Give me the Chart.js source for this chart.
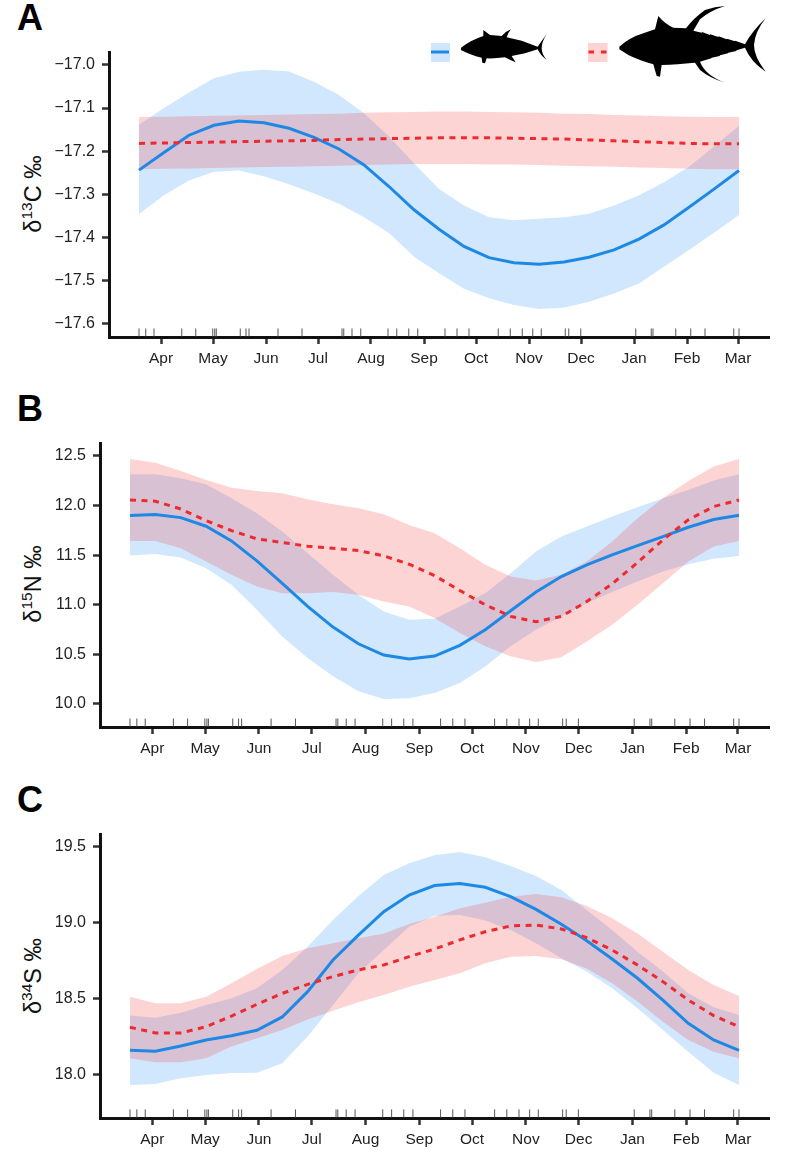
<!DOCTYPE html>
<html lang="en">
<head>
    <meta charset="UTF-8">
    <title>Seasonal isotope values</title>
    <style>
        html, body {
            margin: 0;
            padding: 0;
            background: #fff;
            overflow: hidden;
        }
        body {
            position: relative;
            width: 786px;
            height: 1150px;
            font-family: "Liberation Sans", Arial, sans-serif;
            color: #111;
        }
        canvas {
            position: absolute;
            left: 0;
        }
        .letter {
            position: absolute;
            left: 17px;
            font-size: 36px;
            font-weight: bold;
            line-height: 36px;
            color: #000;
        }
        .ylabel {
            position: absolute;
            left: 33px;
            font-size: 23.5px;
            white-space: nowrap;
            transform: translate(-50%, -50%) rotate(-90deg);
        }
        .ylabel sup {
            font-size: 15.5px;
            line-height: 0;
        }
        #key {
            position: absolute;
            left: 0;
            top: 0;
        }
    </style>
</head>
<body>
    <div class="letter" style="top:0px">A</div>
    <div class="letter" style="top:391px">B</div>
    <div class="letter" style="top:782px">C</div>

    <div class="ylabel" style="top:194px">&delta;<sup>13</sup>C &permil;</div>
    <div class="ylabel" style="top:584px">&delta;<sup>15</sup>N &permil;</div>
    <div class="ylabel" style="top:976px">&delta;<sup>34</sup>S &permil;</div>

    <canvas id="chartA" width="786" height="372" style="top:0"></canvas>
    <canvas id="chartB" width="786" height="372" style="top:385px"></canvas>
    <canvas id="chartC" width="786" height="380" style="top:770px"></canvas>

    <!-- legend swatches and fish silhouettes -->
    <svg id="key" width="786" height="90" viewBox="0 0 786 90">
        <rect x="431" y="43" width="19" height="19" fill="#d0e6fc"/>
        <line x1="431" y1="52" x2="449" y2="52" stroke="#1e88e5" stroke-width="3"/>
        <rect x="588" y="43" width="19.5" height="19" fill="#fdd3d3"/>
        <line x1="588.5" y1="52" x2="607" y2="52" stroke="#ee2a2e" stroke-width="3" stroke-dasharray="5.5 7"/>
        <g transform="translate(455,20) scale(0.3333)" fill="#000">
            <path d="M18 83 Q48 60 85 48 L85 30 L105 45 L140 48 Q152 34 168 28 Q158 40 155 52 L200 62 L248 80 Q258 66 275 42 Q260 66 260 85 Q260 102 275 120 Q256 106 248 88 L210 100 L170 108 L182 127 Q164 120 150 112 Q120 116 95 115 L90 130 L82 128 L80 113 Q45 105 18 90 Z"/>
        </g>
        <g transform="translate(610,0) scale(0.3333)" fill="#000">
            <path d="M28 140 Q60 112 100 100 L135 88 L145 48 Q165 72 190 83 L228 85 Q250 55 285 30 Q315 20 345 18 Q300 32 270 58 L250 92 L275 98 L276 96 L300 105 L301 103 L325 111 L326 109 L350 118 L351 116 L375 124 L376 122 L405 133 Q425 95 467 55 Q435 95 432 135 Q432 170 467 215 Q422 185 405 143 L380 151 L379 153 L355 158 L354 160 L330 166 L329 168 L305 173 L304 175 L270 185 Q285 225 345 248 Q300 235 270 210 L255 188 Q200 193 155 195 L150 230 L140 228 L130 193 Q85 180 55 165 L28 148 Z"/>
        </g>
    </svg>

    <script src="https://cdn.jsdelivr.net/npm/chart.js"></script>
    <script>
        // x runs over the 25 model knots, 0 to 24
        const knots = [0, 1, 2, 3, 4, 5, 6, 7, 8, 9, 10, 11, 12, 13, 14, 15, 16, 17, 18, 19, 20, 21, 22, 23, 24];
        const monthLabels = ['Apr', 'May', 'Jun', 'Jul', 'Aug', 'Sep', 'Oct', 'Nov', 'Dec', 'Jan', 'Feb', 'Mar'];
        const monthPositions = [0.88, 2.96, 5.08, 7.16, 9.28, 11.4, 13.48, 15.6, 17.68, 19.8, 21.92, 23.96];
        const sampleDates = [0, 0.27, 0.6, 1.71, 2.27, 2.95, 3.03, 3.09, 4.05, 4.28, 4.4, 5.56, 6.52, 8.12, 8.19, 8.52, 8.87,
            9.96, 10.31, 10.79, 11.15, 12.24, 12.72, 13.2, 14.37, 14.85, 15.33, 15.75, 16.09, 17.05, 17.19, 17.67,
            19.87, 20.49, 20.56, 21.47, 22.07, 22.64, 23.79, 24];

        // panel A, d13C
        const aTicks = [-17.0, -17.1, -17.2, -17.3, -17.4, -17.5, -17.6];
        const aBlueMean = [-17.244, -17.203, -17.163, -17.14, -17.13, -17.134, -17.147, -17.168, -17.195, -17.232, -17.282, -17.336, -17.381, -17.421, -17.447, -17.459, -17.462, -17.457, -17.446, -17.429, -17.404, -17.371, -17.33, -17.288, -17.245];
        const aBlueUpper = [-17.139, -17.1, -17.064, -17.031, -17.016, -17.011, -17.015, -17.039, -17.07, -17.112, -17.166, -17.228, -17.288, -17.326, -17.353, -17.36, -17.357, -17.353, -17.345, -17.326, -17.302, -17.272, -17.236, -17.189, -17.141];
        const aBlueLower = [-17.346, -17.302, -17.268, -17.248, -17.245, -17.258, -17.277, -17.298, -17.322, -17.353, -17.39, -17.445, -17.483, -17.519, -17.541, -17.557, -17.566, -17.563, -17.549, -17.53, -17.507, -17.468, -17.429, -17.389, -17.348];
        const aRedMean = [-17.182, -17.181, -17.18, -17.179, -17.178, -17.177, -17.176, -17.175, -17.173, -17.172, -17.171, -17.17, -17.169, -17.169, -17.169, -17.17, -17.171, -17.172, -17.174, -17.176, -17.178, -17.18, -17.182, -17.183, -17.183];
        const aRedUpper = [-17.121, -17.12, -17.119, -17.118, -17.117, -17.116, -17.115, -17.114, -17.113, -17.111, -17.11, -17.109, -17.108, -17.108, -17.109, -17.11, -17.111, -17.113, -17.114, -17.116, -17.117, -17.119, -17.12, -17.121, -17.121];
        const aRedLower = [-17.242, -17.241, -17.24, -17.239, -17.238, -17.237, -17.236, -17.235, -17.234, -17.232, -17.231, -17.23, -17.23, -17.23, -17.231, -17.231, -17.232, -17.234, -17.235, -17.236, -17.238, -17.239, -17.241, -17.242, -17.242];

        // panel B, d15N
        const bTicks = [10.0, 10.5, 11.0, 11.5, 12.0, 12.5];
        const bBlueMean = [11.9, 11.91, 11.879, 11.792, 11.644, 11.443, 11.215, 10.983, 10.775, 10.607, 10.493, 10.453, 10.483, 10.591, 10.748, 10.94, 11.128, 11.285, 11.403, 11.503, 11.597, 11.688, 11.782, 11.859, 11.903];
        const bBlueUpper = [12.315, 12.315, 12.275, 12.215, 12.074, 11.923, 11.738, 11.52, 11.302, 11.101, 10.933, 10.849, 10.859, 10.983, 11.117, 11.319, 11.537, 11.688, 11.789, 11.889, 11.983, 12.074, 12.158, 12.252, 12.315];
        const bBlueLower = [11.497, 11.513, 11.477, 11.369, 11.201, 10.95, 10.681, 10.463, 10.279, 10.128, 10.05, 10.057, 10.111, 10.211, 10.379, 10.581, 10.748, 10.883, 11.017, 11.128, 11.235, 11.336, 11.409, 11.463, 11.493];
        const bRedMean = [12.057, 12.044, 11.966, 11.849, 11.748, 11.664, 11.628, 11.591, 11.57, 11.547, 11.493, 11.409, 11.295, 11.144, 11.0, 10.883, 10.829, 10.883, 11.033, 11.211, 11.426, 11.654, 11.856, 11.99, 12.057];
        const bRedUpper = [12.47, 12.433, 12.349, 12.258, 12.181, 12.148, 12.124, 12.064, 12.013, 11.973, 11.913, 11.805, 11.721, 11.57, 11.403, 11.285, 11.245, 11.302, 11.436, 11.638, 11.872, 12.074, 12.248, 12.393, 12.47];
        const bRedLower = [11.644, 11.644, 11.57, 11.436, 11.302, 11.185, 11.117, 11.117, 11.128, 11.101, 11.034, 10.983, 10.866, 10.715, 10.581, 10.48, 10.423, 10.47, 10.631, 10.799, 11.0, 11.218, 11.436, 11.587, 11.644];

        // panel C, d34S
        const cTicks = [18.0, 18.5, 19.0, 19.5];
        const cBlueMean = [18.16, 18.153, 18.188, 18.228, 18.256, 18.291, 18.379, 18.545, 18.753, 18.917, 19.071, 19.18, 19.242, 19.255, 19.231, 19.169, 19.086, 18.988, 18.88, 18.76, 18.633, 18.49, 18.337, 18.228, 18.16];
        const cBlueUpper = [18.388, 18.374, 18.407, 18.458, 18.501, 18.567, 18.688, 18.841, 19.016, 19.174, 19.312, 19.388, 19.441, 19.463, 19.428, 19.371, 19.305, 19.213, 19.082, 18.95, 18.808, 18.677, 18.534, 18.442, 18.392];
        const cBlueLower = [17.932, 17.939, 17.976, 17.998, 18.011, 18.013, 18.074, 18.25, 18.458, 18.666, 18.819, 18.972, 19.044, 19.049, 19.012, 18.95, 18.863, 18.764, 18.677, 18.567, 18.436, 18.293, 18.151, 18.013, 17.932];
        const cRedMean = [18.311, 18.274, 18.274, 18.315, 18.385, 18.462, 18.534, 18.593, 18.644, 18.688, 18.72, 18.775, 18.825, 18.885, 18.939, 18.977, 18.983, 18.957, 18.9, 18.819, 18.72, 18.611, 18.49, 18.388, 18.315];
        const cRedUpper = [18.512, 18.469, 18.469, 18.512, 18.6, 18.694, 18.78, 18.83, 18.863, 18.896, 18.928, 18.99, 19.038, 19.093, 19.13, 19.169, 19.187, 19.165, 19.108, 19.027, 18.928, 18.808, 18.688, 18.589, 18.517];
        const cRedLower = [18.107, 18.081, 18.081, 18.107, 18.184, 18.239, 18.293, 18.363, 18.42, 18.475, 18.523, 18.578, 18.622, 18.666, 18.731, 18.775, 18.78, 18.758, 18.698, 18.6, 18.48, 18.348, 18.228, 18.151, 18.107];

        const BLUE = '#1e88e5';
        const RED = '#ee2a2e';
        const BLUE_FILL = 'rgba(25, 135, 250, 0.2)';
        const RED_FILL = 'rgba(244, 40, 40, 0.2)';
        const AXIS = '#111';

        function xy(values) {
            return values.map((v, i) => ({ x: knots[i], y: v }));
        }

        // band = upper edge filled down to the dataset right after it
        function band(values, color, order) {
            return { data: xy(values), fill: { target: '+1' }, backgroundColor: color, borderWidth: 0, pointRadius: 0, order: order };
        }
        function edge(values, order) {
            return { data: xy(values), fill: false, borderWidth: 0, pointRadius: 0, order: order };
        }

        function drawPanel(id, opts) {
            new Chart(document.getElementById(id), {
                type: 'line',
                data: {
                    datasets: [
                        band(opts.blueUpper, BLUE_FILL, 5),
                        edge(opts.blueLower, 6),
                        band(opts.redUpper, RED_FILL, 3),
                        edge(opts.redLower, 4),
                        { data: xy(opts.blueMean), borderColor: BLUE, borderWidth: 3, pointRadius: 0, fill: false, order: 2 },
                        { data: xy(opts.redMean), borderColor: RED, borderWidth: 3, borderDash: [6, 5.5], pointRadius: 0, fill: false, order: 1 },
                        {
                            // rug of sampling dates along the x axis
                            data: sampleDates.map(d => ({ x: d, y: opts.rugLevel })),
                            showLine: false,
                            pointStyle: 'line',
                            pointRotation: 90,
                            pointRadius: 4,
                            pointBorderWidth: 1,
                            pointBorderColor: '#555',
                            order: 0
                        }
                    ]
                },
                options: {
                    responsive: false,
                    animation: false,
                    events: [],
                    layout: { padding: { top: opts.top, right: 17, left: 0, bottom: 0 } },
                    plugins: { legend: { display: false }, tooltip: { enabled: false } },
                    scales: {
                        x: {
                            type: 'linear',
                            min: opts.xMin,
                            max: opts.xMax,
                            afterFit: s => { s.height = opts.xHeight; },
                            afterBuildTicks: s => { s.ticks = monthPositions.map(v => ({ value: v })); },
                            border: { color: AXIS, width: 3 },
                            grid: { drawOnChartArea: false, tickColor: '#333', tickWidth: 2.5, tickLength: 7 },
                            ticks: {
                                color: '#222',
                                font: { family: '"Liberation Sans"', size: 15.5 },
                                maxRotation: 0,
                                autoSkip: false,
                                padding: 5,
                                callback: v => monthLabels[monthPositions.indexOf(v)]
                            }
                        },
                        y: {
                            min: opts.yMin,
                            max: opts.yMax,
                            afterFit: s => { s.width = opts.yWidth; },
                            afterBuildTicks: s => { s.ticks = opts.ticks.map(v => ({ value: v })); },
                            border: { color: AXIS, width: 3 },
                            grid: { drawOnChartArea: false, tickColor: '#333', tickWidth: 2.5, tickLength: 7 },
                            ticks: {
                                color: '#222',
                                font: { family: '"Liberation Sans"', size: 16 },
                                padding: 7,
                                callback: v => v.toFixed(1).replace('-', '\u2212')
                            }
                        }
                    }
                }
            });
        }

        drawPanel('chartA', {
            blueMean: aBlueMean, blueUpper: aBlueUpper, blueLower: aBlueLower,
            redMean: aRedMean, redUpper: aRedUpper, redLower: aRedLower,
            ticks: aTicks, yMin: -17.631, yMax: -16.970, rugLevel: -17.6205,
            xMin: -1.2, xMax: 25.2, top: 52, yWidth: 109, xHeight: 35
        });
        drawPanel('chartB', {
            blueMean: bBlueMean, blueUpper: bBlueUpper, blueLower: bBlueLower,
            redMean: bRedMean, redUpper: bRedUpper, redLower: bRedLower,
            ticks: bTicks, yMin: 9.768, yMax: 12.631, rugLevel: 9.813,
            xMin: -1.182, xMax: 25.182, top: 58, yWidth: 100, xHeight: 30
        });
        drawPanel('chartC', {
            blueMean: cBlueMean, blueUpper: cBlueUpper, blueLower: cBlueLower,
            redMean: cRedMean, redUpper: cRedUpper, redLower: cRedLower,
            ticks: cTicks, yMin: 17.715, yMax: 19.581, rugLevel: 17.745,
            xMin: -1.182, xMax: 25.182, top: 64, yWidth: 100, xHeight: 32
        });
    </script>
</body>
</html>
